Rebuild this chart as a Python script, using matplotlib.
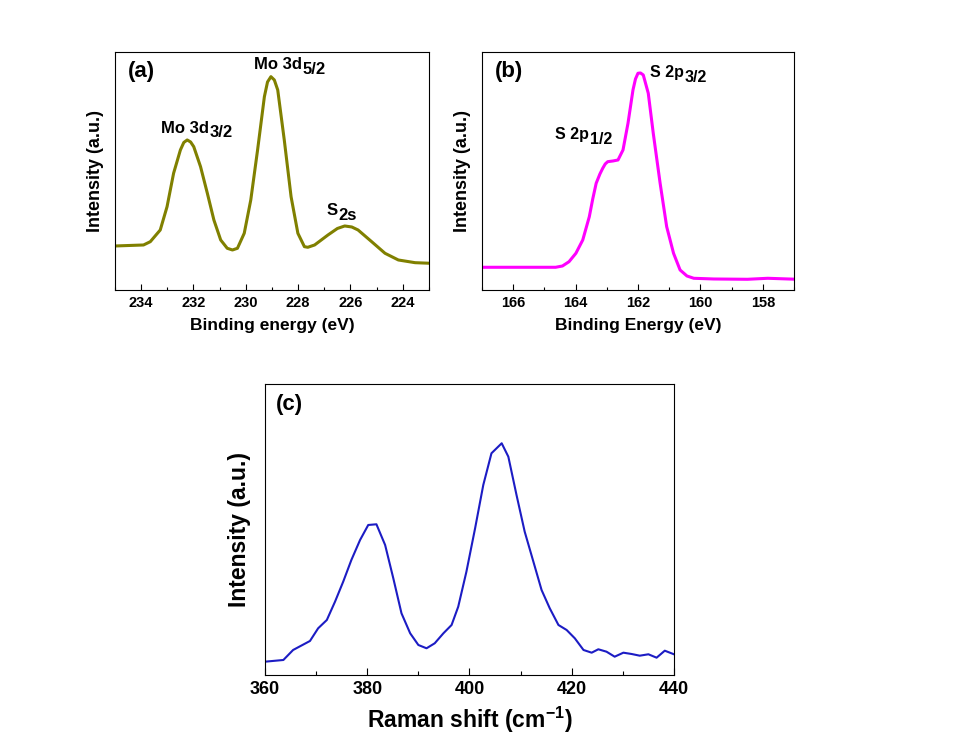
import matplotlib
matplotlib.use('Agg')
import matplotlib.pyplot as plt
from matplotlib.ticker import MultipleLocator

plt.rcParams['font.family'] = ['Liberation Sans', 'DejaVu Sans']
plt.rcParams['font.weight'] = 'bold'
plt.rcParams['mathtext.default'] = 'regular'

# (a) Mo 3d XPS
be_mo = [235.0, 233.91, 233.65, 233.27, 233.01, 232.76, 232.5, 232.37, 232.24, 232.11, 231.99,
         231.73, 231.47, 231.22, 230.96, 230.71, 230.51, 230.32, 230.06, 229.81, 229.55,
         229.29, 229.17, 229.04, 228.91, 228.78, 228.53, 228.27, 228.01, 227.76, 227.63,
         227.37, 226.86, 226.5, 226.22, 225.95, 225.71, 225.19, 224.68, 224.17, 223.53, 222.95]
int_mo = [44, 45, 48.3, 60, 83.3, 116.7, 140, 147.5, 150, 148, 143.3,
          123.3, 96.7, 70, 50, 41.7, 40, 41.7, 56.7, 90, 140,
          193.3, 208, 213.3, 210, 200, 150, 93.3, 56.7, 43.3, 42.7,
          45, 55, 61.5, 64, 63, 60, 48.3, 36.7, 30, 27.3, 26.7]

# (b) S 2p XPS
be_s = [167.0, 164.64, 164.42, 164.21, 163.99, 163.77, 163.56, 163.45, 163.34, 163.22,
        163.13, 163.05, 162.97, 162.8, 162.64, 162.48, 162.32, 162.16, 162.08, 162.0,
        161.92, 161.83, 161.67, 161.51, 161.29, 161.08, 160.86, 160.65, 160.43, 160.21,
        159.57, 158.49, 157.84, 156.89]
int_s = [22.7, 22.7, 24, 28.3, 36.7, 50, 73.3, 91, 106.7, 116,
         121.7, 126, 128.3, 129, 130, 140, 166.7, 200, 211, 216.7,
         217, 215, 196.7, 156.7, 106.7, 63.3, 36.7, 20, 14, 11.7,
         11, 10.7, 11.7, 10.7]

# (c) Raman
shift = [360.0, 363.6, 365.5, 368.8, 370.4, 372.1, 373.7, 375.3, 376.9, 378.6, 380.2,
         381.8, 383.5, 385.1, 386.7, 388.4, 390.0, 391.6, 393.2, 394.9, 396.5, 397.8,
         399.4, 401.1, 402.7, 404.3, 406.3, 407.6, 409.2, 410.8, 412.5, 414.1, 415.7,
         417.4, 419.0, 420.6, 422.3, 423.9, 425.2, 426.8, 428.4, 430.1, 431.7, 433.3,
         435.0, 436.6, 438.2, 440.0]
raman = [13.3, 15, 25, 34, 46.7, 55, 73.3, 93.3, 115, 135, 150,
         150.7, 130, 96.7, 61.7, 41.7, 30, 26.7, 31.7, 41.7, 50, 68.3,
         103.3, 146.7, 190, 221.7, 231.7, 218.3, 180, 143.3, 113.3, 85, 66.7,
         50, 45, 36.7, 25, 22.3, 25.7, 23.3, 18.3, 22.3, 21, 19.3,
         20.7, 17.3, 24.3, 20.7]


def sublabel(ax, x, y, main, sub, size):
    t = ax.text(x, y, main, fontsize=size, fontweight='bold', ha='left', va='baseline')
    ax.annotate(sub, xy=(1, 0), xycoords=t, xytext=(0.3, -1.2), textcoords='offset points',
                fontsize=size, fontweight='bold', ha='left', va='baseline')


def style(ax, major, minor, tsize):
    ax.set_yticks([])
    ax.xaxis.set_major_locator(MultipleLocator(major))
    ax.xaxis.set_minor_locator(MultipleLocator(minor))
    ax.tick_params(axis='x', which='major', direction='in', length=4, width=0.8,
                   labelsize=tsize, pad=4)
    ax.tick_params(axis='x', which='minor', direction='in', length=2.5, width=0.8)
    for s in ax.spines.values():
        s.set_linewidth(0.8)


fig = plt.figure(figsize=(9.59, 7.36), dpi=100)

ax1 = fig.add_axes([0.1199, 0.606, 0.3274, 0.3234])
ax1.plot(be_mo, int_mo, color='#808000', lw=2.2)
ax1.set_xlim(235, 223)
ax1.set_ylim(0, 238)
style(ax1, 2, 1, 10.5)
ax1.set_xlabel('Binding energy (eV)', fontsize=12.5, fontweight='bold', labelpad=6)
ax1.set_ylabel('Intensity (a.u.)', fontsize=13, fontweight='bold', labelpad=8)
ax1.text(0.04, 0.96, '(a)', transform=ax1.transAxes, fontsize=16, fontweight='bold',
         ha='left', va='top')
sublabel(ax1, 229.7, 220.7, 'Mo 3d', '5/2', 12)
sublabel(ax1, 233.23, 157.3, 'Mo 3d', '3/2', 12)
sublabel(ax1, 226.9, 75, 'S', '2s', 12)

ax2 = fig.add_axes([0.5026, 0.606, 0.3253, 0.3234])
ax2.plot(be_s, int_s, color='#ff00ff', lw=2.2)
ax2.set_xlim(167, 157)
ax2.set_ylim(0, 238)
style(ax2, 2, 1, 10.5)
ax2.set_xlabel('Binding Energy (eV)', fontsize=12.5, fontweight='bold', labelpad=6)
ax2.set_ylabel('Intensity (a.u.)', fontsize=13, fontweight='bold', labelpad=8)
ax2.text(0.04, 0.96, '(b)', transform=ax2.transAxes, fontsize=16, fontweight='bold',
         ha='left', va='top')
sublabel(ax2, 161.6, 212.7, 'S 2p', '3/2', 11.5)
sublabel(ax2, 164.65, 151, 'S 2p', '1/2', 11.5)

ax3 = fig.add_axes([0.2763, 0.0829, 0.4265, 0.3954])
ax3.plot(shift, raman, color='#1c1cc4', lw=1.5)
ax3.set_xlim(360, 440)
ax3.set_ylim(0, 291)
style(ax3, 20, 10, 13)
ax3.tick_params(axis='x', which='major', length=5)
ax3.tick_params(axis='x', which='minor', length=3)
ax3.set_xlabel(r'Raman shift (cm$^{-1}$)', fontsize=16.5, fontweight='bold', labelpad=5)
ax3.set_ylabel('Intensity (a.u.)', fontsize=16.5, fontweight='bold', labelpad=10)
ax3.text(0.027, 0.965, '(c)', transform=ax3.transAxes, fontsize=16, fontweight='bold',
         ha='left', va='top')

fig.savefig('out.png', dpi=100)
